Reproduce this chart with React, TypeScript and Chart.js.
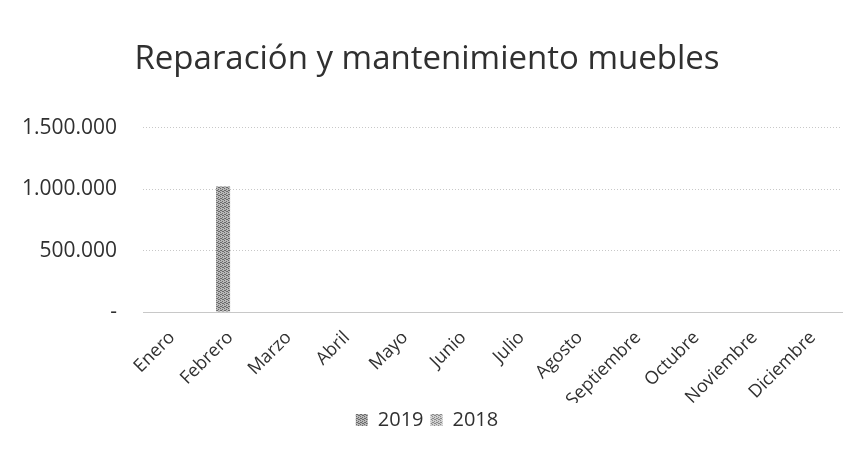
import React, { useEffect, useRef } from "react";
import { Chart, registerables } from "chart.js";

Chart.register(...registerables);

const TITLE = "Reparación y mantenimiento muebles";
const MONTHS = ["Enero", "Febrero", "Marzo", "Abril", "Mayo", "Junio", "Julio", "Agosto", "Septiembre", "Octubre", "Noviembre", "Diciembre"];
const SERIES_2019 = [0, 1020000, 0, 0, 0, 0, 0, 0, 0, 0, 0, 0];
const SERIES_2018 = [0, 0, 0, 0, 0, 0, 0, 0, 0, 0, 0, 0];
const Y_TICKS = [0, 500000, 1000000, 1500000];

const FONT = "'Open Sans', 'Noto Sans', sans-serif";

function fmt(v: number): string {
  if (v === 0) return "-";
  return String(Math.round(v)).replace(/\B(?=(\d{3})+(?!\d))/g, ".");
}

function makePattern(dark: string, light: string): CanvasPattern | string {
  const c = document.createElement("canvas");
  c.width = 4;
  c.height = 4;
  const ctx = c.getContext("2d");
  if (!ctx) return dark;
  ctx.fillStyle = light;
  ctx.fillRect(0, 0, 4, 4);
  ctx.fillStyle = dark;
  ctx.fillRect(0, 0, 1, 1);
  ctx.fillRect(2, 1, 1, 1);
  ctx.fillRect(1, 2, 1, 1);
  ctx.fillRect(3, 3, 1, 1);
  ctx.fillRect(2, 3, 1, 1);
  ctx.fillRect(0, 2, 1, 1);
  const p = ctx.createPattern(c, "repeat");
  return p || dark;
}

export default function App() {
  const ref = useRef<HTMLCanvasElement>(null);
  useEffect(() => {
    if (!ref.current) return;
    const p19 = makePattern("#6a6a6a", "#b8b8b8");
    const p18 = makePattern("#8a8a8a", "#cfcfcf");
    const chart = new Chart(ref.current, {
      type: "bar",
      data: {
        labels: MONTHS,
        datasets: [
          { label: "2019", data: SERIES_2019, backgroundColor: p19 as any, borderWidth: 0, categoryPercentage: 0.5, barPercentage: 0.96 },
          { label: "2018", data: SERIES_2018, backgroundColor: p18 as any, borderWidth: 0, categoryPercentage: 0.5, barPercentage: 0.96 },
        ],
      },
      options: {
        animation: false,
        responsive: false,
        maintainAspectRatio: false,
        layout: { padding: { top: 26, right: 2, left: 12, bottom: 17 } },
        plugins: {
          title: {
            display: true,
            text: TITLE,
            color: "#303030",
            font: { family: FONT, size: 33, weight: "normal", lineHeight: 1.2 },
            padding: { top: 14, bottom: 48 },
          },
          legend: {
            position: "bottom",
            labels: {
              color: "#303030",
              font: { family: FONT, size: 20 },
              boxWidth: 12,
              boxHeight: 12,
              padding: 7,
            },
          },
          tooltip: { enabled: false },
        },
        scales: {
          x: {
            afterFit: (scale: any) => {
              scale.height = 91;
            },
            grid: { display: false },
            border: { display: true, color: "#c8c8c8", dash: [1, 2] },
            ticks: {
              color: "#303030",
              font: { family: FONT, size: 18 },
              minRotation: 45,
              maxRotation: 45,
              padding: 7,
            },
          },
          y: {
            min: 0,
            max: 1500000,
            afterBuildTicks: (scale: any) => {
              scale.ticks = Y_TICKS.map((v) => ({ value: v }));
            },
            afterFit: (scale: any) => {
              scale.width = 131;
            },
            grid: { color: "#c8c8c8", drawTicks: false },
            border: { display: false, dash: [1, 2] },
            ticks: {
              color: "#303030",
              font: { family: FONT, size: 21 },
              padding: 26,
              callback: (v: any) => fmt(Number(v)),
            },
          },
        },
      },
    });
    return () => chart.destroy();
  }, []);
  return (
    <div style={{ position: "fixed", left: 0, top: 0, width: 844, height: 457, background: "#fff" }}>
      <canvas ref={ref} width={844} height={457} style={{ width: 844, height: 457, display: "block" }} />
    </div>
  );
}
